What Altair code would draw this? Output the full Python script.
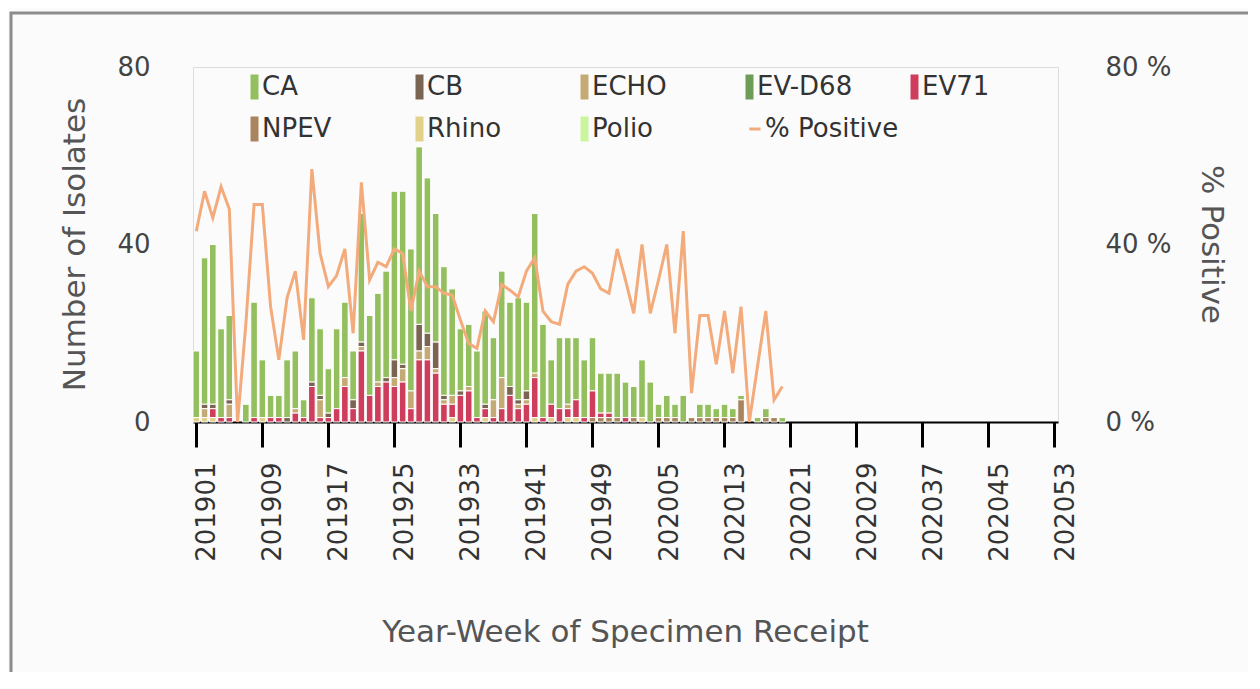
import altair as alt
import pandas as pd

# ---------------- data ----------------
weeks = [f"2019{w:02d}" for w in range(1, 53)] + [f"2020{w:02d}" for w in range(1, 54)]
tick_labels = ["201901", "201909", "201917", "201925", "201933", "201941", "201949",
               "202005", "202013", "202021", "202029", "202037", "202045", "202053"]

series_names = ["CA", "CB", "ECHO", "EV-D68", "EV71", "NPEV", "Rhino", "Polio"]
series_colors = ["#93bf5e", "#7a6552", "#c4aa74", "#6c9c56", "#cf3d5c", "#a8855f", "#e2d18a", "#c9f59c"]
line_name = "% Positive"
line_color = "#f3ab7c"

# weekly isolate counts (first 72 weeks, 201901 .. 202020)
CA = [15, 33, 36, 20, 19, 0, 4, 26, 13, 5,
      5, 13, 13, 4, 19, 15, 10, 18, 17, 11,
      29, 18, 20, 24, 38, 39, 32, 40, 35, 29,
      29, 24, 14, 14, 15, 21, 14, 24, 19, 23,
      20, 36, 21, 10, 16, 15, 14, 13, 12, 9,
      9, 10, 8, 7, 13, 9, 3, 5, 3, 6,
      0, 3, 3, 2, 3, 2, 1, 0, 1, 2,
      0, 1]
CB = [0, 1, 1, 0, 1, 0, 0, 0, 0, 0,
      0, 1, 0, 0, 1, 1, 1, 0, 0, 2,
      1, 0, 0, 1, 4, 1, 0, 6, 3, 6,
      1, 0, 1, 0, 0, 1, 0, 0, 2, 1,
      2, 0, 0, 0, 0, 0, 0, 0, 0, 0,
      0, 0, 0, 0, 0, 0, 0, 0, 0, 0,
      0, 0, 0, 0, 0, 0, 0, 0, 0, 0,
      0, 0]
ECHO = [0, 2, 0, 0, 3, 0, 0, 0, 0, 0,
        0, 0, 1, 0, 0, 4, 0, 0, 2, 0,
        1, 0, 1, 0, 2, 3, 4, 2, 3, 1,
        1, 2, 0, 1, 0, 0, 4, 7, 0, 1,
        1, 1, 0, 0, 0, 1, 0, 0, 0, 0,
        0, 0, 0, 0, 0, 0, 0, 0, 0, 0,
        0, 0, 0, 0, 0, 0, 0, 0, 0, 0,
        0, 0]
EVD68 = [0] * 72
EV71 = [0, 0, 2, 1, 1, 0, 0, 1, 0, 1,
        1, 0, 2, 1, 8, 1, 1, 3, 8, 3,
        16, 6, 8, 9, 8, 9, 3, 14, 14, 11,
        4, 3, 6, 7, 1, 2, 1, 3, 6, 3,
        4, 9, 1, 3, 3, 2, 4, 1, 6, 1,
        1, 0, 1, 0, 0, 0, 0, 0, 0, 0,
        0, 0, 0, 0, 0, 0, 0, 0, 0, 0,
        0, 0]
NPEV = [0, 0, 0, 0, 0, 0, 0, 0, 0, 0,
        0, 0, 0, 0, 0, 0, 0, 0, 0, 0,
        0, 0, 0, 0, 0, 0, 0, 0, 0, 0,
        0, 0, 0, 0, 0, 0, 0, 0, 0, 0,
        0, 0, 0, 0, 0, 0, 0, 0, 1, 1,
        1, 1, 0, 1, 0, 0, 1, 1, 1, 0,
        1, 1, 1, 1, 1, 1, 5, 0, 0, 1,
        1, 0]
Rhino = [1, 1, 1, 0, 0, 0, 0, 0, 1, 0,
         0, 0, 0, 0, 0, 0, 0, 0, 0, 0,
         0, 0, 0, 0, 0, 0, 0, 0, 0, 0,
         0, 1, 0, 0, 0, 1, 0, 0, 0, 0,
         0, 1, 0, 1, 0, 1, 1, 0, 0, 0,
         0, 0, 0, 0, 1, 0, 0, 0, 0, 0,
         0, 0, 0, 0, 0, 0, 0, 0, 0, 0,
         0, 0]
Polio = [0] * 72

pct_positive = [43, 52, 46, 53, 48, 0, 22, 49, 49, 26,
                14, 28, 34, 18.5, 57, 38, 30.5, 33, 39, 20,
                54, 32, 36, 35, 39, 38, 25, 34, 30.5, 30.5,
                29, 28.6, 23, 17.7, 16.6, 25, 22.6, 31, 29.7, 28.2,
                34, 37, 25, 22.6, 22, 31, 34, 35, 33.5, 30,
                29, 39, 32, 24.5, 40, 24.5, 32, 40, 20, 43,
                6.5, 24, 24, 13, 25, 11, 26, 0, 12.6, 25,
                5, 8]

# ---------------- tables ----------------
series_values = [CA, CB, ECHO, EVD68, EV71, NPEV, Rhino, Polio]
rows = []
for s_idx, (name, vals) in enumerate(zip(series_names, series_values)):
    for w_idx, v in enumerate(vals):
        if v > 0:
            rows.append({"week": weeks[w_idx], "series": name, "count": v,
                         "ord": len(series_names) - 1 - s_idx})
bar_df = pd.DataFrame(rows)
line_df = pd.DataFrame({"week": weeks[:len(pct_positive)], "pct": pct_positive,
                        "series": line_name})

FONT = "DejaVu Sans"
TITLE_SIZE = 31

bar_legend = alt.Legend(
    title=None, orient="none", legendX=40, legendY=7, columns=5, direction="horizontal",
    gridAlign="all", columnPadding=40, rowPadding=16, symbolSize=625, labelFontSize=26,
    labelFont=FONT, labelColor="#333333", labelOffset=3, padding=0, symbolStrokeWidth=0,
    symbolType="M0.36,-1L1,-1L1,1L0.36,1Z", symbolOpacity=1,
)
line_legend = alt.Legend(
    title=None, orient="none", legendX=541, legendY=48, padding=0,
    symbolSize=625, labelFontSize=26, labelFont=FONT, labelColor="#333333", labelOffset=3,
    symbolType="M0.1,0L1,0", symbolStrokeWidth=3, symbolFillColor="transparent", symbolOpacity=1,
)

x_scale = alt.Scale(domain=weeks, paddingInner=0.2, paddingOuter=0)
x_axis = alt.Axis(values=tick_labels, labelAngle=-90, labelFontSize=26, labelFont=FONT,
                  labelColor="#333333", labelPadding=15, labelOffset=11, tickSize=25, tickWidth=3,
                  tickColor="#000000", domainColor="#000000", domainWidth=2,
                  labelOverlap=False, grid=False,
                  titleFontSize=TITLE_SIZE, titleFont=FONT, titleColor="#555555",
                  titleFontWeight="normal",
                  titleX=432, titleY=210, titleBaseline="middle", titleAlign="center")
x_enc = alt.X("week:N", scale=x_scale, axis=x_axis, title="Year-Week of Specimen Receipt")

left_axis = alt.Axis(values=[0, 40, 80], ticks=False, domain=False, grid=False,
                     labelFontSize=26, labelFont=FONT, labelColor="#444444", labelPadding=43,
                     labelFlush=False,
                     titleFontSize=TITLE_SIZE, titleFont=FONT, titleColor="#555555",
                     titleFontWeight="normal",
                     titleX=-118, titleY=177, titleBaseline="middle", titleAlign="center")
right_axis = alt.Axis(orient="right", values=[0, 40, 80], ticks=False, domain=False, grid=False,
                      labelExpr="datum.value + ' %'",
                      labelFontSize=26, labelFont=FONT, labelColor="#444444", labelPadding=47,
                      labelFlush=False,
                      titleFontSize=TITLE_SIZE, titleFont=FONT, titleColor="#555555",
                      titleFontWeight="normal",
                      titleAngle=90, titleX=152, titleY=177, titleBaseline="middle", titleAlign="center")

bars = alt.Chart(bar_df).mark_bar(stroke="white", strokeWidth=1).encode(
    x=x_enc,
    y=alt.Y("count:Q", stack="zero", scale=alt.Scale(domain=[0, 80], nice=False),
            axis=left_axis, title="Number of Isolates"),
    color=alt.Color("series:N", scale=alt.Scale(domain=series_names, range=series_colors),
                    legend=bar_legend),
    order=alt.Order("ord:Q", sort="ascending"),
)

line = alt.Chart(line_df).mark_line(strokeWidth=3).encode(
    x=x_enc,
    y=alt.Y("pct:Q", scale=alt.Scale(domain=[0, 80], nice=False),
            axis=right_axis, title="% Positive"),
    stroke=alt.Stroke("series:N", scale=alt.Scale(domain=[line_name], range=[line_color]),
                      legend=line_legend),
)

frame = alt.Chart(alt.Data(values=[{"k": 1}])).mark_rect(
    fillOpacity=0, stroke="#8c8c8c", strokeWidth=3, clip=False
).encode(x=alt.value(-182), x2=alt.value(1300), y=alt.value(-54), y2=alt.value(900))

chart = alt.layer(frame, bars, line).resolve_scale(y="independent").properties(
    width=865, height=355,
    background="#fbfbfb",
    padding={"left": 185, "top": 59, "right": 190, "bottom": 250},
    autosize=alt.AutoSizeParams(type="none"),
).configure_view(stroke="#cccccc", strokeWidth=2, fill="white").configure(font=FONT)

chart.save("out.html", embed_options={"renderer": "svg", "actions": False})
